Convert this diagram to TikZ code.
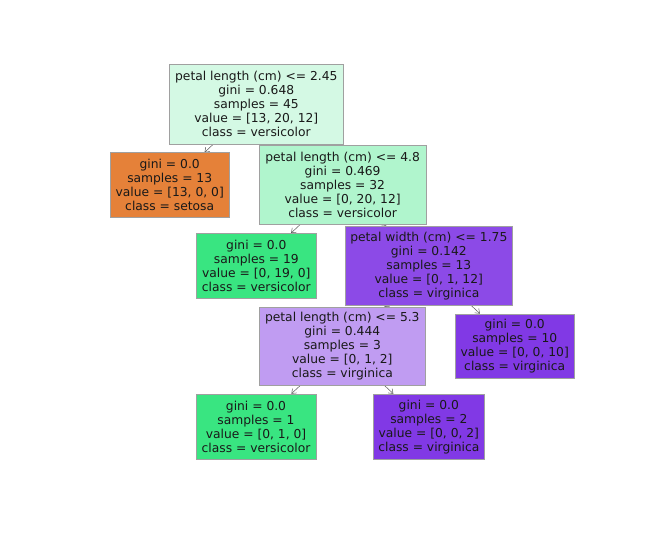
\documentclass[tikz,border=0pt]{standalone}
\usepackage{fontspec}
\setmainfont{DejaVu Sans}
\usetikzlibrary{arrows.meta,backgrounds}
\definecolor{setosaC}{RGB}{229,129,57}
\definecolor{versiC}{RGB}{57,229,129}
\definecolor{virgC}{RGB}{129,57,229}
\definecolor{rootC}{RGB}{212,249,228}
\definecolor{ntwoC}{RGB}{176,245,205}
\definecolor{nfourC}{RGB}{140,74,231}
\definecolor{nfiveC}{RGB}{192,156,242}
\definecolor{edgeC}{RGB}{160,160,160}
\definecolor{arrC}{RGB}{90,90,90}
\begin{document}
\begin{tikzpicture}[x=1pt,y=-1pt,
  treebox/.style={draw=edgeC,line width=0.6pt,inner sep=0pt,align=center,
    font=\fontsize{12.3}{14}\selectfont,text=black!90},
  tedge/.style={draw=arrC,line width=0.5pt,-{Straight Barb[length=4pt,width=6pt]}}]
\useasboundingbox (0,0) rectangle (668,534);
\node[treebox,fill=rootC,minimum width=173.5pt,minimum height=80pt] (root) at (256.3,104)
  {petal length (cm) <= 2.45\\gini = 0.648\\samples = 45\\value = [13, 20, 12]\\class = versicolor};
\node[treebox,fill=setosaC,minimum width=118.7pt,minimum height=64.6pt] (setosa) at (169.7,185)
  {gini = 0.0\\samples = 13\\value = [13, 0, 0]\\class = setosa};
\node[treebox,fill=ntwoC,minimum width=166.7pt,minimum height=79.6pt] (ntwo) at (342.6,184.7)
  {petal length (cm) <= 4.8\\gini = 0.469\\samples = 32\\value = [0, 20, 12]\\class = versicolor};
\node[treebox,fill=versiC,minimum width=119.3pt,minimum height=64.7pt] (nthree) at (256.3,265.7)
  {gini = 0.0\\samples = 19\\value = [0, 19, 0]\\class = versicolor};
\node[treebox,fill=nfourC,minimum width=167.7pt,minimum height=79.3pt] (nfour) at (428.8,265.7)
  {petal width (cm) <= 1.75\\gini = 0.142\\samples = 13\\value = [0, 1, 12]\\class = virginica};
\node[treebox,fill=nfiveC,minimum width=166pt,minimum height=78pt] (nfive) at (342.3,346.3)
  {petal length (cm) <= 5.3\\gini = 0.444\\samples = 3\\value = [0, 1, 2]\\class = virginica};
\node[treebox,fill=virgC,minimum width=118.7pt,minimum height=64.7pt] (nsix) at (514.7,346.3)
  {gini = 0.0\\samples = 10\\value = [0, 0, 10]\\class = virginica};
\node[treebox,fill=versiC,minimum width=120pt,minimum height=65.3pt] (nseven) at (256,426.7)
  {gini = 0.0\\samples = 1\\value = [0, 1, 0]\\class = versicolor};
\node[treebox,fill=virgC,minimum width=111.7pt,minimum height=65.3pt] (neight) at (428.8,426.7)
  {gini = 0.0\\samples = 2\\value = [0, 0, 2]\\class = virginica};
\begin{pgfonlayer}{background}
\draw[tedge] (root.center) -- (setosa);
\draw[tedge] (root.center) -- (ntwo);
\draw[tedge] (ntwo.center) -- (nthree);
\draw[tedge] (ntwo.center) -- (nfour);
\draw[tedge] (nfour.center) -- (nfive);
\draw[tedge] (nfour.center) -- (nsix);
\draw[tedge] (nfive.center) -- (nseven);
\draw[tedge] (nfive.center) -- (neight);
\end{pgfonlayer}
\end{tikzpicture}
\end{document}
